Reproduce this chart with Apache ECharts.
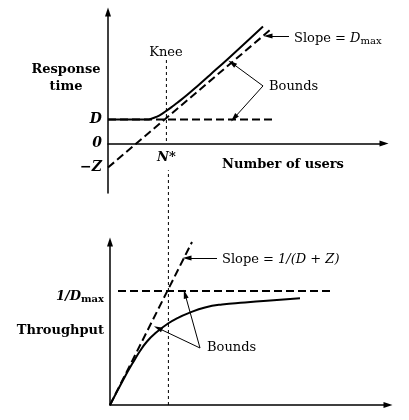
<!DOCTYPE html>
<html><head><meta charset="utf-8">
<script src="https://cdn.jsdelivr.net/npm/echarts@6/dist/echarts.min.js"></script>
<style>html,body{margin:0;padding:0;background:#fff}#c{width:409px;height:420px}</style>
</head><body><div id="c"></div>
<script>
// ---------- data (abstract units) ----------
const nStar = 2.92;                       // knee, number of users
// Top panel: response time vs number of users (D = 1, Z = 1)
const responseCurve = [[0,1],[1.95,1],[2.2,1.042],[2.45,1.125],[2.7,1.24],[2.95,1.38],[3.2,1.53],[3.45,1.69],[3.95,2.02],[4.45,2.38],[5.1,2.86],[6.1,3.61],[7.75,4.88]];
const responseSlopeBound = [[0,-1],[8.2,4.8]];
const responseFlatBound = [[0,1],[8.35,1]];
const responseKnee = [[nStar,3.48],[nStar,0]];
const responseTicks = [-1,0,1];
const responseTickLabels = ['\u2212Z','0','D'];
// Bottom panel: throughput vs number of users (1/Dmax = 1)
const throughputCurve = [[0,0],[0.75,0.25],[1.15,0.373],[1.5,0.474],[1.85,0.557],[2.25,0.627],[2.9,0.715],[3.4,0.765],[3.9,0.804],[4.75,0.855],[5.6,0.882],[6.75,0.899],[7.85,0.915],[9.5,0.936]];
const throughputSlopeBound = [[0,0],[4.1,1.43]];
const throughputFlatBound = [[0.4,1],[11.15,1]];
const throughputKnee = [[nStar,0],[nStar,2.06]];
// annotation arrows [from, to]
const topArrows = [[[9.05,4.48],[8.0,4.48]], [[7.75,2.40],[6.2,3.35]], [[7.75,2.40],[6.3,1.06]]];
const bottomArrows = [[[5.35,1.29],[3.85,1.29]], [[4.5,0.5],[2.4,0.675]], [[4.5,0.5],[3.75,0.974]]];

const FONT = 'DejaVu Serif';
const black = '#000';

function lineSeries(data, xi, opts) {
  return Object.assign({
    type: 'line', xAxisIndex: xi, yAxisIndex: xi, data: data,
    showSymbol: false, symbol: 'none', silent: true, animation: false,
    lineStyle: { color: black, width: 2 }
  }, opts || {});
}
function arrowMark(arr) {
  return {
    silent: true, animation: false, symbol: ['none','triangle'], symbolSize: [5,9],
    label: { show: false },
    lineStyle: { color: black, width: 1, type: 'solid' },
    emphasis: { disabled: true },
    data: arr.map(a => [{ coord: a[0] }, { coord: a[1] }])
  };
}

const chart = echarts.init(document.getElementById('c'), null, { renderer: 'canvas' });
chart.setOption({
  animation: false,
  backgroundColor: '#fff',
  grid: [
    { left: 108, top: 12, width: 276, height: 181 },
    { left: 110, top: 242, width: 278, height: 163 }
  ],
  xAxis: [
    { type: 'value', gridIndex: 0, min: 0, max: 13.8, splitLine: { show: false },
      axisTick: { show: false },
      axisLine: { onZero: true, symbol: ['none','triangle'], symbolSize: [6,9], lineStyle: { color: black, width: 1.5 } },
      axisLabel: { customValues: [nStar], formatter: () => 'N*', margin: -42, color: black,
        fontFamily: FONT, fontStyle: 'italic', fontWeight: 'bold', fontSize: 13 } },
    { type: 'value', gridIndex: 1, min: 0, max: 13.9, splitLine: { show: false },
      axisTick: { show: false }, axisLabel: { show: false },
      axisLine: { symbol: ['none','triangle'], symbolSize: [6,9], lineStyle: { color: black, width: 1.5 } } }
  ],
  yAxis: [
    { type: 'value', gridIndex: 0, min: -2.06, max: 5.48, splitLine: { show: false },
      axisTick: { show: false },
      axisLine: { onZero: true, symbol: ['none','triangle'], symbolSize: [6,9], lineStyle: { color: black, width: 1.5 } },
      axisLabel: { customValues: responseTicks, margin: 6, color: black,
        formatter: v => responseTickLabels[responseTicks.indexOf(v)],
        fontFamily: FONT, fontStyle: 'italic', fontWeight: 'bold', fontSize: 14 } },
    { type: 'value', gridIndex: 1, min: 0, max: 1.43, splitLine: { show: false },
      axisTick: { show: false },
      axisLine: { symbol: ['none','triangle'], symbolSize: [6,9], lineStyle: { color: black, width: 1.5 } },
      axisLabel: { customValues: [1], margin: 6, color: black, padding: [12,0,0,0],
        formatter: () => '{i|1/D}{s|max}',
        rich: { i: { fontFamily: FONT, fontStyle: 'italic', fontWeight: 'bold', fontSize: 13, color: black },
                s: { fontFamily: FONT, fontWeight: 'bold', fontSize: 10, color: black, padding: [5,0,0,0] } } } }
  ],
  series: [
    lineSeries(responseCurve, 0, { smooth: 0.5, z: 5 }),
    lineSeries(responseSlopeBound, 0, { lineStyle: { color: black, width: 2, type: [8,4] }, markLine: arrowMark(topArrows) }),
    lineSeries(responseFlatBound, 0, { lineStyle: { color: black, width: 2, type: [8,4] } }),
    lineSeries(responseKnee, 0, { lineStyle: { color: black, width: 1, type: [3,3] }, clip: false }),
    lineSeries(throughputCurve, 1, { smooth: 0.5, z: 5 }),
    lineSeries(throughputSlopeBound, 1, { lineStyle: { color: black, width: 2, type: [8,4] }, markLine: arrowMark(bottomArrows) }),
    lineSeries(throughputFlatBound, 1, { lineStyle: { color: black, width: 2, type: [8,4] } }),
    lineSeries(throughputKnee, 1, { lineStyle: { color: black, width: 1, type: [3,3] }, clip: false })
  ],
  graphic: [
    { type: 'text', x: 66, y: 78, silent: true, style: { text: 'Response\ntime', fill: black, font: 'bold 13px "DejaVu Serif"', textAlign: 'center', verticalAlign: 'middle', lineHeight: 17 } },
    { type: 'text', x: 166, y: 53, silent: true, style: { text: 'Knee', fill: black, font: '13px "DejaVu Serif"', textAlign: 'center', verticalAlign: 'middle' } },
    { type: 'text', x: 283, y: 165, silent: true, style: { text: 'Number of users', fill: black, font: 'bold 13px "DejaVu Serif"', textAlign: 'center', verticalAlign: 'middle' } },
    { type: 'text', x: 294, y: 39, silent: true, style: { text: 'Slope = {i|D}{s|max}', fill: black, font: '13px "DejaVu Serif"', textAlign: 'left', verticalAlign: 'middle',
        rich: { i: { fontFamily: FONT, fontStyle: 'italic', fontSize: 13, fill: black }, s: { fontFamily: FONT, fontSize: 10, fill: black, padding: [5,0,0,0] } } } },
    { type: 'text', x: 269, y: 87, silent: true, style: { text: 'Bounds', fill: black, font: '13px "DejaVu Serif"', textAlign: 'left', verticalAlign: 'middle' } },
    { type: 'text', x: 104, y: 331, silent: true, style: { text: 'Throughput', fill: black, font: 'bold 13px "DejaVu Serif"', textAlign: 'right', verticalAlign: 'middle' } },
    { type: 'text', x: 222, y: 260, silent: true, style: { text: 'Slope = {i|1/(D + Z)}', fill: black, font: '13px "DejaVu Serif"', textAlign: 'left', verticalAlign: 'middle',
        rich: { i: { fontFamily: FONT, fontStyle: 'italic', fontSize: 13, fill: black } } } },
    { type: 'text', x: 207, y: 348, silent: true, style: { text: 'Bounds', fill: black, font: '13px "DejaVu Serif"', textAlign: 'left', verticalAlign: 'middle' } }
  ]
});
</script>
</body></html>
